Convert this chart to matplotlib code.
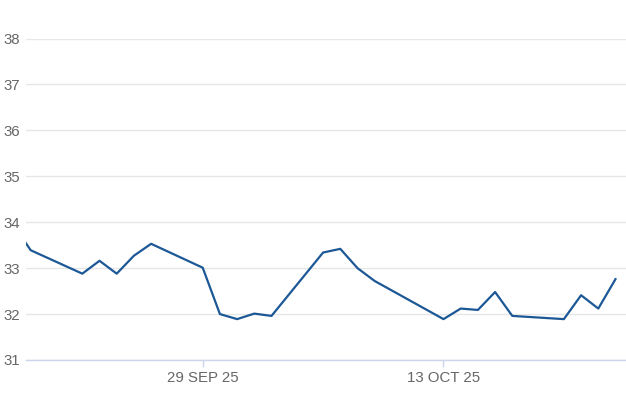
import matplotlib
matplotlib.use("Agg")
import matplotlib.pyplot as plt
import pandas as pd

dates = ["2025-09-18 17:00", "2025-09-19 00:00", "2025-09-22 00:00", "2025-09-23 00:00", "2025-09-24 00:00",
         "2025-09-25 00:00", "2025-09-26 00:00", "2025-09-29 00:00", "2025-09-30 00:00", "2025-10-01 00:00",
         "2025-10-02 00:00", "2025-10-03 00:00", "2025-10-06 00:00", "2025-10-07 00:00", "2025-10-08 00:00",
         "2025-10-09 00:00", "2025-10-13 00:00", "2025-10-14 00:00", "2025-10-15 00:00", "2025-10-16 00:00",
         "2025-10-17 00:00", "2025-10-20 00:00", "2025-10-21 00:00", "2025-10-22 00:00", "2025-10-23 00:00"]
values = [33.55, 33.39, 32.88, 33.16, 32.88,
          33.27, 33.53, 33.01, 32.00, 31.89,
          32.01, 31.96, 33.34, 33.42, 33.00,
          32.72, 31.89, 32.12, 32.09, 32.48,
          31.96, 31.89, 32.41, 32.12, 32.76]
y_ticks = [31, 32, 33, 34, 35, 36, 37, 38]
x_ticks = ["2025-09-29", "2025-10-13"]

x = pd.to_datetime(dates, format="%Y-%m-%d %H:%M")

fig = plt.figure(figsize=(6.26, 4.17), dpi=100)
ax = fig.add_axes([25.7 / 626, 1 - 360 / 417, 1 - 25.7 / 626, (360 - 38.5) / 417])

ax.plot(x, values, color="#1c5896", linewidth=1.6, solid_joinstyle="round")

ax.set_ylim(31, 38)
ax.set_xlim(pd.Timestamp("2025-09-18 17:00"), pd.Timestamp("2025-10-23 14:40"))
ax.set_yticks(y_ticks)
xt = pd.to_datetime(x_ticks)
ax.set_xticks(xt)
ax.set_xticklabels([t.strftime("%d %b %y").upper() for t in xt])

ax.grid(axis="y", color="#e6e6e6", linewidth=1.0)
ax.grid(axis="x", visible=False)
ax.set_axisbelow(True)
for s in ["top", "right", "left"]:
    ax.spines[s].set_visible(False)
ax.spines["bottom"].set_color("#ccd6eb")
ax.spines["bottom"].set_linewidth(1.0)

font = "Liberation Sans"
for lab in ax.get_xticklabels() + ax.get_yticklabels():
    lab.set_fontfamily(font)
    lab.set_fontsize(10.8)
    lab.set_color("#666666")
ax.tick_params(axis="y", length=0, pad=4)
ax.tick_params(axis="x", length=5, color="#ccd6eb", width=1.0, pad=3)

fig.savefig("out.png", dpi=100)
